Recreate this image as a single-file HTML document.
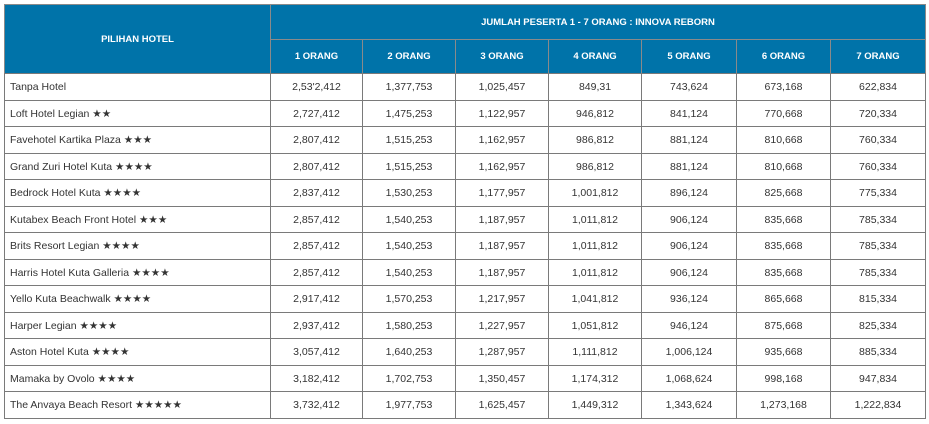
<!DOCTYPE html><html><head><style>
body{margin:0;width:929px;height:424px;background:#fff;font-family:"Liberation Sans",sans-serif;position:relative;overflow:hidden}
.c{position:absolute;box-sizing:border-box;border:1px solid #7a7a7a;display:flex;align-items:center;justify-content:center;font-size:10.5px;color:#333}
.h{background:#0073a9;color:#fff;font-weight:bold;font-size:9.5px;border-color:#8a8a8a}
.l{justify-content:flex-start;padding-left:5px}
</style></head><body>
<script>
const X=[4,270,362,455,548,641,736,830,925];
const rows=[["Tanpa Hotel","2,53'2,412","1,377,753","1,025,457","849,31","743,624","673,168","622,834"],
["Loft Hotel Legian ★★","2,727,412","1,475,253","1,122,957","946,812","841,124","770,668","720,334"],
["Favehotel Kartika Plaza ★★★","2,807,412","1,515,253","1,162,957","986,812","881,124","810,668","760,334"],
["Grand Zuri Hotel Kuta ★★★★","2,807,412","1,515,253","1,162,957","986,812","881,124","810,668","760,334"],
["Bedrock Hotel Kuta ★★★★","2,837,412","1,530,253","1,177,957","1,001,812","896,124","825,668","775,334"],
["Kutabex Beach Front Hotel ★★★","2,857,412","1,540,253","1,187,957","1,011,812","906,124","835,668","785,334"],
["Brits Resort Legian ★★★★","2,857,412","1,540,253","1,187,957","1,011,812","906,124","835,668","785,334"],
["Harris Hotel Kuta Galleria ★★★★","2,857,412","1,540,253","1,187,957","1,011,812","906,124","835,668","785,334"],
["Yello Kuta Beachwalk ★★★★","2,917,412","1,570,253","1,217,957","1,041,812","936,124","865,668","815,334"],
["Harper Legian ★★★★","2,937,412","1,580,253","1,227,957","1,051,812","946,124","875,668","825,334"],
["Aston Hotel Kuta ★★★★","3,057,412","1,640,253","1,287,957","1,111,812","1,006,124","935,668","885,334"],
["Mamaka by Ovolo ★★★★","3,182,412","1,702,753","1,350,457","1,174,312","1,068,624","998,168","947,834"],
["The Anvaya Beach Resort ★★★★★","3,732,412","1,977,753","1,625,457","1,449,312","1,343,624","1,273,168","1,222,834"]];
let h='';
function cell(x1,y1,x2,y2,t,cls){h+=`<div class="c ${cls}" style="left:${x1}px;top:${y1}px;width:${x2-x1+1}px;height:${y2-y1+1}px">${t}</div>`}
cell(4,4,270,73,"PILIHAN HOTEL","h");
cell(270,4,925,39,"JUMLAH PESERTA 1 - 7 ORANG : INNOVA REBORN","h");
for(let i=1;i<8;i++)cell(X[i],39,X[i+1],73,i+" ORANG","h");
rows.forEach((r,j)=>{const y1=Math.round(73+j*26.54),y2=Math.round(73+(j+1)*26.54);
r.forEach((t,i)=>cell(X[i],y1,X[i+1],y2,t,i==0?"l":""));});
document.body.innerHTML+=h;
</script>
</body></html>
